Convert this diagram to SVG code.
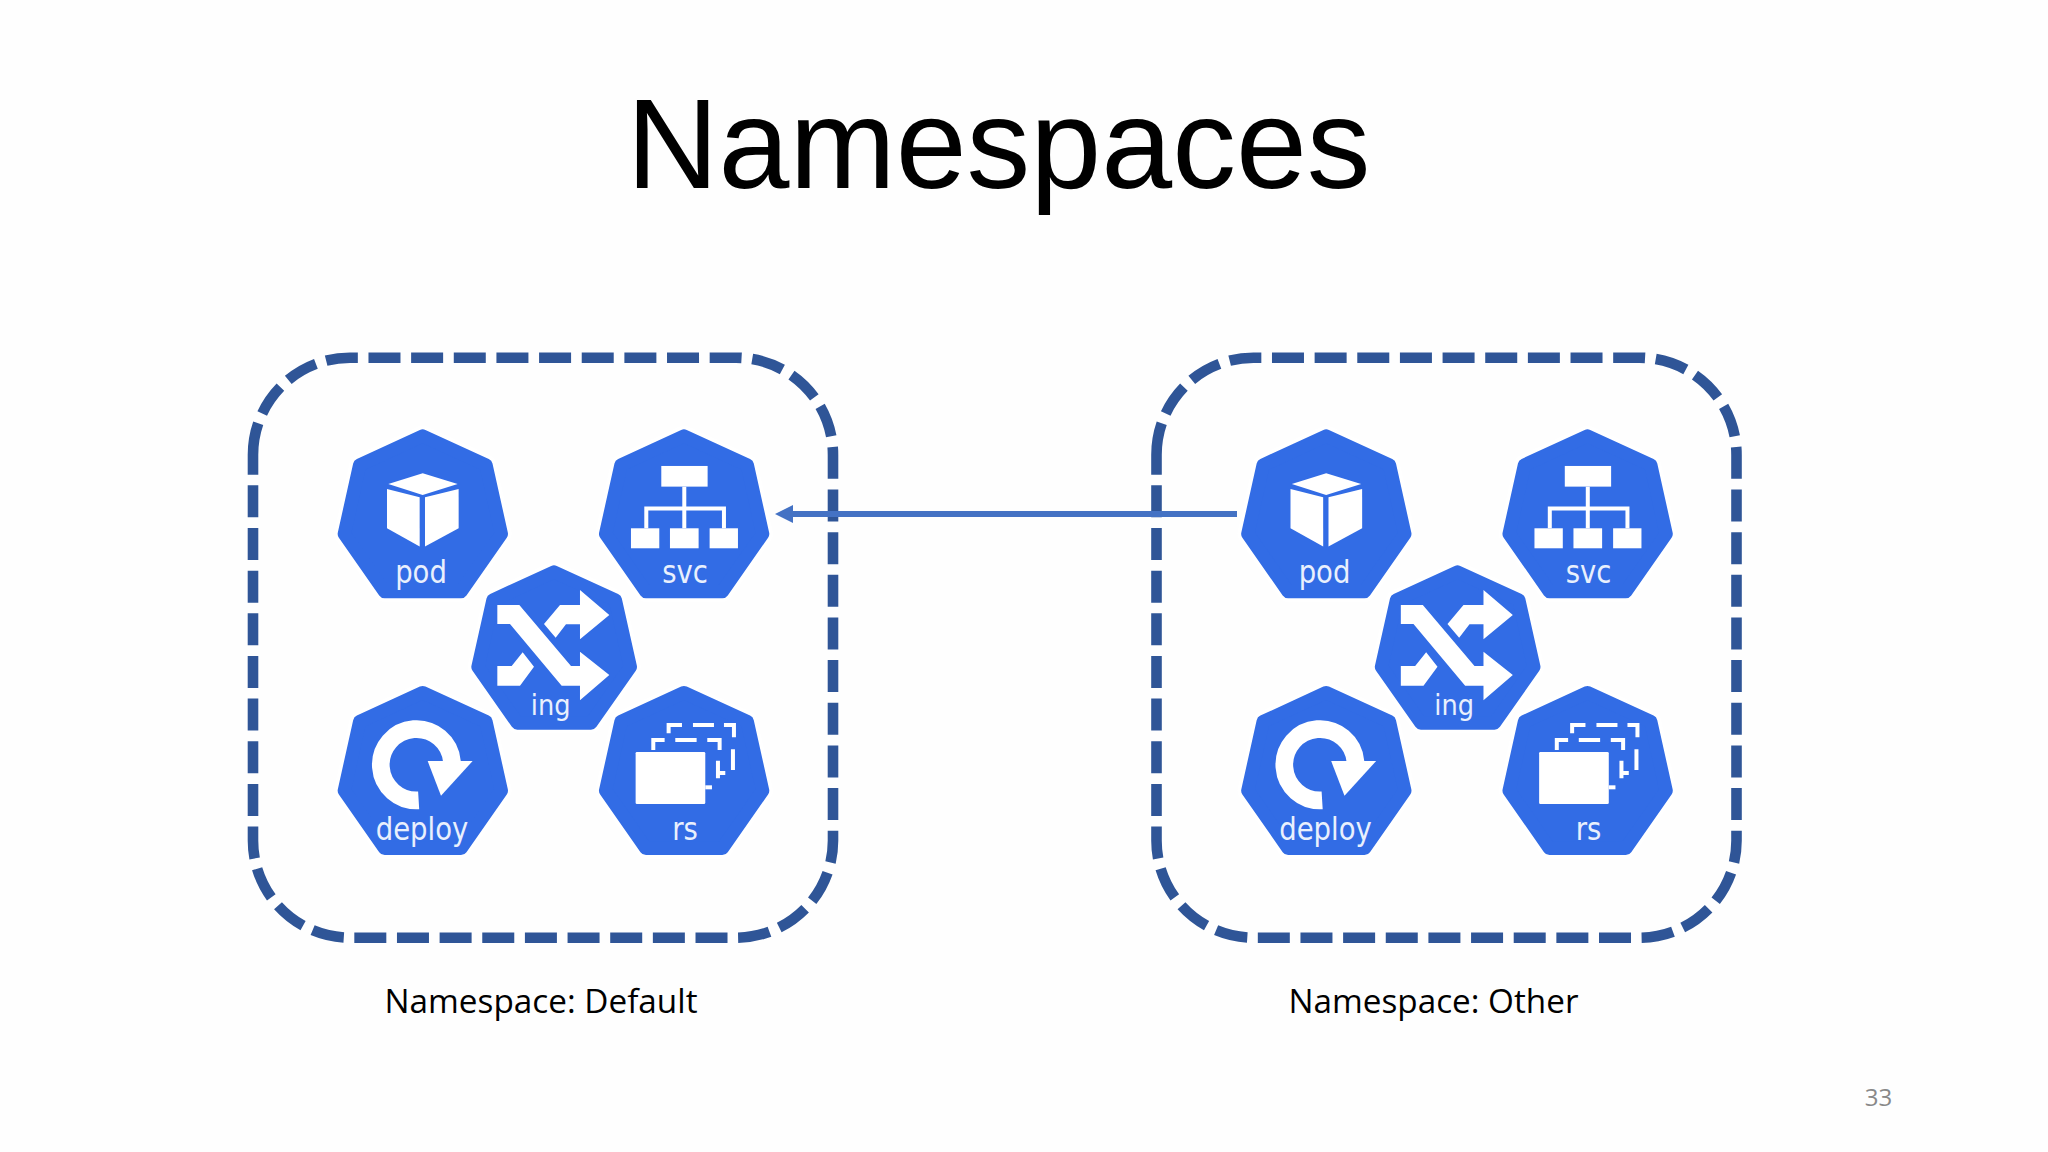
<svg xmlns="http://www.w3.org/2000/svg" xmlns:xlink="http://www.w3.org/1999/xlink" width="2048" height="1152" viewBox="0 0 2048 1152">
<style>
.frame{fill:none;stroke:#2F5597;stroke-width:10.6;stroke-dasharray:32 10.65}
.hex{fill:#326CE5;stroke:#326CE5;stroke-width:40;stroke-linejoin:round}
.halo{fill:#fff;stroke:#fff;stroke-width:62;stroke-linejoin:round}
.ico{fill:#fff}
.ln{fill:none;stroke:#fff;stroke-width:12}
.lab{font-family:"DejaVu Sans",sans-serif;fill:#e9f0fd;text-anchor:middle;font-size:27.5px}
.ns{font-family:"Open Sans",sans-serif;font-size:32px;fill:#000}
</style>
<defs>
<g id="h"><polygon class="halo" points="278,38 468,125 514,332 393,505 164,505 43,332 89,125"/><polygon class="hex" points="278,38 468,125 514,332 393,505 164,505 43,332 89,125"/></g>
<g id="i-pod" transform="scale(.3333)"><use xlink:href="#h" href="#h"/>
<polygon class="ico" points="278,150 383,182 278,215 175,182"/>
<polygon class="ico" points="171,197 269,222 269,370 171,315"/>
<polygon class="ico" points="285,222 386,197 386,315 285,370"/></g>
<g id="i-svc" transform="scale(.3333)"><use xlink:href="#h" href="#h"/>
<rect class="ico" x="210" y="128" width="139" height="62"/>
<path class="ln" d="M279 190V315M165 315V256H398V315"/>
<rect class="ico" x="119" y="315" width="85" height="60"/>
<rect class="ico" x="236" y="315" width="86" height="60"/>
<rect class="ico" x="355" y="315" width="85" height="60"/></g>
<g id="i-ing" transform="scale(.3333)">
<polygon class="halo" points="282,51 466,135 511,336 393,504 172,504 54,336 99,135"/><polygon class="hex" points="282,51 466,135 511,336 393,504 172,504 54,336 99,135"/>
<polygon class="ico" points="112,150 178,150 333,333 360,333 360,290 448,360 360,436 360,392 305,392 150,207 112,207"/>
<polygon class="ico" points="252,207 300,150 360,150 360,105 448,180 360,253 360,208 318,208 287,248"/>
<polygon class="ico" points="112,333 155,333 188,292 222,335 180,392 112,392"/></g>
<g id="i-deploy" transform="scale(.3333)"><use xlink:href="#h" href="#h"/>
<path d="M266 361A107 107 0 1 1 366 245" fill="none" stroke="#fff" stroke-width="53"/>
<polygon class="ico" points="293,243 428,243 333,347"/></g>
<g id="i-rs" transform="scale(.3333)"><use xlink:href="#h" href="#h"/>
<rect class="ico" x="133" y="216" width="209" height="156" rx="4"/>
<rect class="ico" x="342" y="316" width="20" height="12"/>
<path class="ln" d="M186 210V180H220M252 180H316M348 180H385V210M380 242V295M385 279H402M232 160V135H272M305 135H368M398 135H428V172M425 208V270"/>
</g>
</defs>
<rect width="2048" height="1152" fill="#fefefe"/>
<text x="998.5" y="188" font-family="'Liberation Sans',Arial,sans-serif" font-size="127.5" text-anchor="middle" fill="#000">Namespaces</text>

<g id="namespace-default">
<path class="frame" d="M253 454.7A97 97 0 0 1 350 357.7H736A97 97 0 0 1 833 454.7V840.7A97 97 0 0 1 736 937.7H350A97 97 0 0 1 253 840.7Z"/>
<text class="ns" x="384.5" y="1012.7" textLength="313" lengthAdjust="spacingAndGlyphs">Namespace: Default</text>
</g>
<g id="namespace-other">
<path class="frame" d="M1156.5 454.7A97 97 0 0 1 1253.5 357.7H1639.5A97 97 0 0 1 1736.5 454.7V840.7A97 97 0 0 1 1639.5 937.7H1253.5A97 97 0 0 1 1156.5 840.7Z"/>
<text class="ns" x="1288.5" y="1012.7" textLength="290" lengthAdjust="spacingAndGlyphs">Namespace: Other</text>
</g>

<g id="default-pod"><use href="#i-pod" xlink:href="#i-pod" transform="translate(330,423.3)"/><text class="lab" transform="translate(421,583) scale(1,1.13)">pod</text></g>
<g id="default-svc"><use href="#i-svc" xlink:href="#i-svc" transform="translate(591.3,423.3)"/><text class="lab" transform="translate(685,583) scale(1,1.13)">svc</text></g>
<g id="default-deploy"><use href="#i-deploy" xlink:href="#i-deploy" transform="translate(330,680)"/><text class="lab" transform="translate(422,839.5) scale(1,1.13)">deploy</text></g>
<g id="default-rs"><use href="#i-rs" xlink:href="#i-rs" transform="translate(591.3,680)"/><text class="lab" transform="translate(685,839.5) scale(1,1.13)">rs</text></g>
<g id="default-ing"><use href="#i-ing" xlink:href="#i-ing" transform="translate(460,555)"/><text class="lab" transform="translate(550.7,714.5) scale(1,1.13)" style="font-size:25.7px">ing</text></g>

<g id="other-pod"><use href="#i-pod" xlink:href="#i-pod" transform="translate(1233.5,423.3)"/><text class="lab" transform="translate(1324.5,583) scale(1,1.13)">pod</text></g>
<g id="other-svc"><use href="#i-svc" xlink:href="#i-svc" transform="translate(1494.8,423.3)"/><text class="lab" transform="translate(1588.5,583) scale(1,1.13)">svc</text></g>
<g id="other-deploy"><use href="#i-deploy" xlink:href="#i-deploy" transform="translate(1233.5,680)"/><text class="lab" transform="translate(1325.5,839.5) scale(1,1.13)">deploy</text></g>
<g id="other-rs"><use href="#i-rs" xlink:href="#i-rs" transform="translate(1494.8,680)"/><text class="lab" transform="translate(1588.5,839.5) scale(1,1.13)">rs</text></g>
<g id="other-ing"><use href="#i-ing" xlink:href="#i-ing" transform="translate(1363.5,555)"/><text class="lab" transform="translate(1454.2,714.5) scale(1,1.13)" style="font-size:25.7px">ing</text></g>

<g id="connectors">
<line x1="1237" y1="514" x2="790" y2="514" stroke="#4472C4" stroke-width="6"/>
<polygon points="775,514 793,505 793,523" fill="#4472C4"/>
</g>
<text x="1878.5" y="1106" font-family="'Open Sans',sans-serif" font-size="24" text-anchor="middle" fill="#898989">33</text>
</svg>
